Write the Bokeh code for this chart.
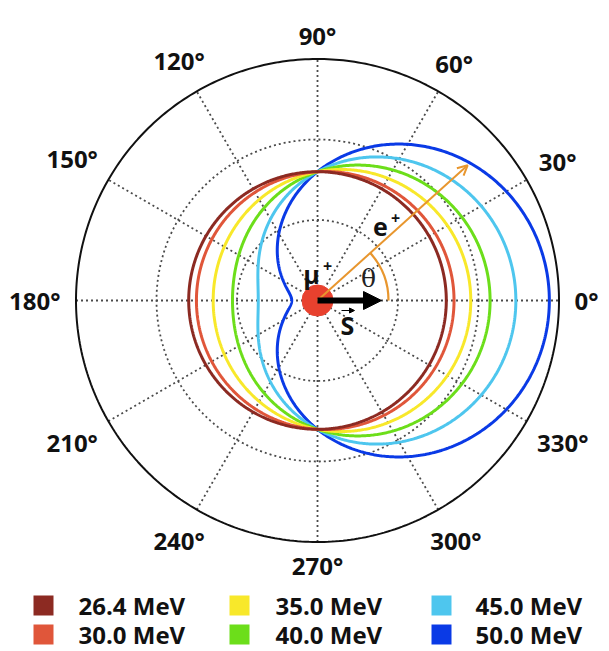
import numpy as np
from bokeh.plotting import figure
from bokeh.models import Range1d, Arrow, NormalHead, OpenHead
from bokeh.core.properties import value
from bokeh.embed import file_html
from bokeh.resources import INLINE

# ---- data ----
energies = ["26.4 MeV", "30.0 MeV", "35.0 MeV", "40.0 MeV", "45.0 MeV", "50.0 MeV"]
asymmetry = [0.0, 0.06, 0.19, 0.34, 0.54, 0.80]      # r(θ) = R(1 + a·cosθ)
base_radius = 0.80                                   # r at 90° / 270°
colors = ["#8C2A22", "#E0563A", "#F8E82A", "#6CDE1A", "#4EC6EE", "#0A3AE6"]
angle_ticks = [0, 30, 60, 90, 120, 150, 180, 210, 240, 270, 300, 330]
angle_labels = ["0°", "30°", "60°", "90°", "120°", "150°", "180°", "210°", "240°", "270°", "300°", "330°"]
grid_radii = [0.5, 1.0]
r_max = 1.5
e_angle = 42          # direction of the e+ arrow (deg)

PX = 1.0 / 161.0      # one screen pixel in data units
W, H = 609, 651
CX, CY = 317, 300     # centre of the polar plot in figure pixels

p = figure(width=W, height=H, output_backend="svg", toolbar_location=None,
           x_range=Range1d(-CX * PX, (W - CX) * PX),
           y_range=Range1d(-(H - CY) * PX, CY * PX),
           min_border=0, outline_line_color=None)
p.axis.visible = False
p.grid.visible = False
p.background_fill_color = "white"
p.border_fill_color = "white"

GRID = "#4a4a4a"
# dotted circles
t = np.linspace(0, 2 * np.pi, 400)
for gr in grid_radii:
    p.line(gr * np.cos(t), gr * np.sin(t), line_color=GRID, line_width=1.8, line_dash="2 3")
# dotted spokes
for a in angle_ticks[:6]:
    ar = np.deg2rad(a)
    p.line([-r_max * np.cos(ar), r_max * np.cos(ar)], [-r_max * np.sin(ar), r_max * np.sin(ar)],
           line_color=GRID, line_width=1.8, line_dash="2 3")
# outer circle
p.line(r_max * np.cos(t), r_max * np.sin(t), line_color="#111111", line_width=2)

# curves
th = np.linspace(0, 2 * np.pi, 721)
for i in reversed(range(len(energies))):
    r = base_radius * (1 + asymmetry[i] * np.cos(th))
    p.line(r * np.cos(th), r * np.sin(th), line_color=colors[i], line_width=3)

# angle labels
FS = 24
for a, lab in zip(angle_ticks, angle_labels):
    ar = np.deg2rad(a)
    nd = len(lab) - 1
    hw = (0.572 * nd + 0.43) * FS / 2
    rl = (257 + hw * abs(np.cos(ar)) + 8 * abs(np.sin(ar))) * PX
    p.text(x=[rl * np.cos(ar)], y=[rl * np.sin(ar)], text=[lab],
           text_font=value("Open Sans"), text_font_style="bold", text_font_size=f"{FS}px",
           text_align="center", text_baseline="middle", text_color="#111111")

# e+ arrow, theta arc
ORANGE = "#E8962E"
ea = np.deg2rad(e_angle)
p.add_layout(Arrow(end=OpenHead(size=10, line_color=ORANGE, line_width=2),
                   x_start=0, y_start=0, x_end=1.255 * np.cos(ea), y_end=1.255 * np.sin(ea),
                   line_color=ORANGE, line_width=2))
p.arc(x=[0], y=[0], radius=71 * PX, start_angle=0, end_angle=ea, line_color=ORANGE, line_width=2.2)

# spin arrow
p.add_layout(Arrow(end=NormalHead(size=18, fill_color="black", line_color="black"),
                   x_start=0, y_start=0, x_end=64 * PX, y_end=0,
                   line_color="black", line_width=6))
# muon
p.scatter(x=[0], y=[0], size=31, fill_color="#E8412E", line_color="#E8412E")

# texts
p.text(x=[-6 * PX], y=[27 * PX], text=["μ"], text_font=value("Open Sans"), text_font_style="bold",
       text_font_size="25px", text_align="center", text_baseline="middle", text_color="#111111")
p.text(x=[10 * PX], y=[35 * PX], text=["+"], text_font=value("Open Sans"), text_font_style="bold",
       text_font_size="16px", text_align="center", text_baseline="middle", text_color="#111111")
p.text(x=[63 * PX], y=[74 * PX], text=["e"], text_font=value("Open Sans"), text_font_style="bold",
       text_font_size="25px", text_align="center", text_baseline="middle", text_color="#111111")
p.text(x=[78 * PX], y=[83 * PX], text=["+"], text_font=value("Open Sans"), text_font_style="bold",
       text_font_size="16px", text_align="center", text_baseline="middle", text_color="#111111")
p.text(x=[51 * PX], y=[22 * PX], text=["θ"], text_font=value("DejaVu Serif"),
       text_font_size="25px", text_align="center", text_baseline="middle", text_color="#222222")
p.text(x=[30 * PX], y=[-24 * PX], text=["S"], text_font=value("Open Sans"), text_font_style="bold",
       text_font_size="25px", text_align="center", text_baseline="middle", text_color="#111111")
p.add_layout(Arrow(end=NormalHead(size=5, fill_color="black", line_color="black"),
                   x_start=24 * PX, y_start=-10 * PX, x_end=37 * PX, y_end=-10 * PX,
                   line_color="black", line_width=1.2))

# legend (3 columns x 2 rows, column-major)
sq_x = [43, 239, 441]
tx_x = [78, 275, 475]
row_y = [605, 634]
for i, lab in enumerate(energies):
    c, rr = i // 2, i % 2
    yy = (CY - row_y[rr]) * PX
    p.rect(x=[(sq_x[c] - CX) * PX], y=[yy], width=20, height=20, width_units="screen",
           height_units="screen", fill_color=colors[i], line_color=None)
    p.text(x=[(tx_x[c] - CX) * PX], y=[yy], text=[lab], text_font=value("Open Sans"),
           text_font_style="bold", text_font_size="24px", text_align="left",
           text_baseline="middle", text_color="#111111")

open("out.html", "w").write(file_html(p, INLINE))
